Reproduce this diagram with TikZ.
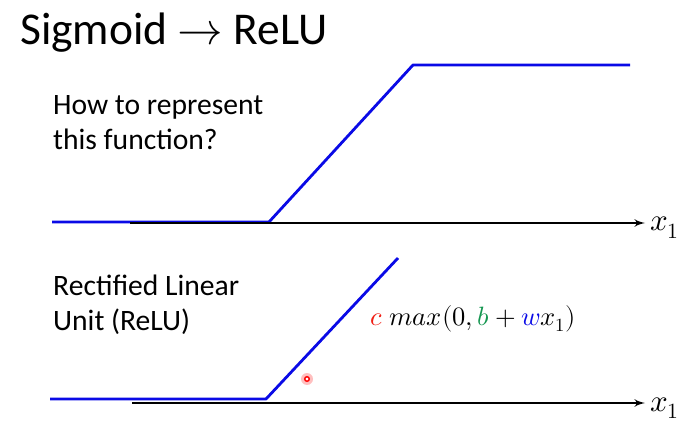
\documentclass[tikz,border=0pt]{standalone}
\usepackage{fontspec}
\usepackage{unicode-math}
\setmainfont{Carlito}
\setmathfont{Latin Modern Math}
\usepackage{tikz}
\usetikzlibrary{arrows}

\definecolor{fblue}{RGB}{10,10,230}
\definecolor{cred}{RGB}{240,30,20}
\definecolor{bgreen}{RGB}{20,150,80}

\begin{document}
\begin{tikzpicture}[x=1pt,y=1pt,>=latex',
                    axis/.style={->,line width=2.6pt,black},
                    fn/.style={line width=2.8pt,fblue,line join=round},
                    txt/.style={anchor=base west,inner sep=0pt,font=\fontsize{29.6}{35}\selectfont,align=left},
                    xlab/.style={anchor=base west,inner sep=0pt,font=\fontsize{31}{31}\selectfont}]
  \useasboundingbox (0,0) rectangle (697,432);

  % title
  \node[anchor=base west,inner sep=0pt,font=\fontsize{45.5}{50}\selectfont] (title) at (20,387) {Sigmoid $\rightarrow$ ReLU};

  % upper plot
  \node[txt] (q1) at (53,317) {How to represent};
  \node[txt] (q2) at (53,282) {this function?};
  \coordinate (u0) at (52,210);
  \coordinate (u1) at (269,210);
  \coordinate (u2) at (413,367);
  \coordinate (u3) at (630,367);
  \draw[fn] (u0) -- (u1) -- (u2) -- (u3);
  \coordinate (ua) at (130,209);
  \coordinate (ub) at (645,209);
  \draw[axis] (ua) -- (ub);
  \node[xlab] (ux) at (650,201) {$x_1$};

  % lower plot
  \node[txt] (r1) at (53,137) {Rectified Linear};
  \node[txt] (r2) at (53,102) {Unit (ReLU)};
  \coordinate (l0) at (50,33);
  \coordinate (l1) at (266,33);
  \coordinate (l2) at (398,174);
  \draw[fn] (l0) -- (l1) -- (l2);
  \coordinate (la) at (132,29);
  \coordinate (lb) at (645,29);
  \draw[axis] (la) -- (lb);
  \node[xlab] (lx) at (650,21) {$x_1$};

  \node[anchor=base west,inner sep=0pt,font=\fontsize{26.5}{26.5}\selectfont] (relu) at (370,107)
    {$\color{cred}c\;\color{black}max(0,\color{bgreen}b\color{black}+\color{fblue}w\color{black}x_1)$};

  % pointer
  \fill[red!25] (307,53) circle (6);
  \draw[red,line width=1.4pt,fill=white] (307,53) circle (2.3);
\end{tikzpicture}
\end{document}
